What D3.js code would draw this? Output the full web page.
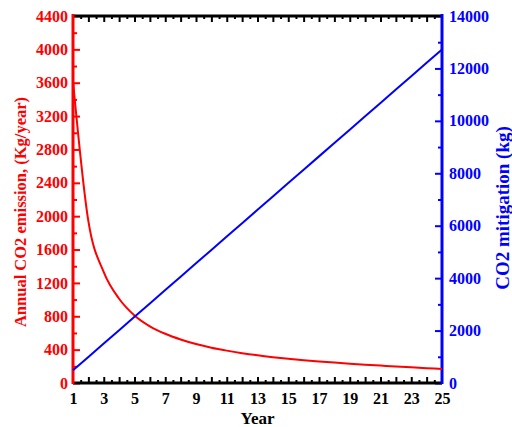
<!DOCTYPE html>
<html><head><meta charset="utf-8">
<script src="https://cdn.jsdelivr.net/npm/d3@7"></script>
<style>html,body{margin:0;padding:0;background:#fff}</style>
</head><body><svg id="c" width="512" height="427"></svg>
<script>
const years = [1,2,3,4,5,6,7,8,9,10,11,12,13,14,15,16,17,18,19,20,21,22,23,24,25];
const emission = [3620,1940,1330,1010,810,680,590,522,467,423,388,358,332,310,291,274,259,245,232,220,209,198,188,178,168];
const mitigation = [485,995,1505,2015,2525,3035,3545,4055,4565,5075,5585,6095,6605,7115,7625,8135,8645,9155,9665,10175,10685,11195,11705,12215,12725];
const xTicks = [1,3,5,7,9,11,13,15,17,19,21,23,25];
const leftTicks = [0,400,800,1200,1600,2000,2400,2800,3200,3600,4000,4400];
const rightTicks = [0,2000,4000,6000,8000,10000,12000,14000];

const svg = d3.select('#c');
const L = 73, R = 442, T = 16, B = 383;
const x = d3.scaleLinear().domain([1,25]).range([L,R]);
const yL = d3.scaleLinear().domain([0,4400]).range([B,T]);
const yR = d3.scaleLinear().domain([0,14000]).range([B,T]);
const font = '"Liberation Serif","Times New Roman",serif';
const RED = '#ff0000', BLUE = '#0000ff';

function styleAxis(g, color, size){
  g.select('.domain').remove();
  g.selectAll('line').attr('stroke', color).attr('stroke-width', 2);
  g.selectAll('text').attr('fill', color).attr('font-family', font)
   .attr('font-weight','bold').attr('font-size', size);
}

const halfX = d3.range(1.5, 25, 1);
const fullX = d3.range(2, 25, 1);
[[d3.axisBottom, B], [d3.axisTop, T]].forEach(([ax, pos]) => {
  svg.append('g').attr('transform',`translate(0,${pos})`)
    .call(ax(x).tickValues(halfX).tickSize(-3).tickFormat(''))
    .call(g=>styleAxis(g,'#000',16));
  svg.append('g').attr('transform',`translate(0,${pos})`)
    .call(ax(x).tickValues(fullX).tickSize(-6).tickFormat(''))
    .call(g=>styleAxis(g,'#000',16));
});

// bottom labels
svg.append('g').attr('transform',`translate(0,${B})`)
  .call(d3.axisBottom(x).tickValues(xTicks).tickSize(0).tickPadding(10).tickFormat(d3.format('d')))
  .call(g=>styleAxis(g,'#000',16));

// left axis
svg.append('g').attr('transform',`translate(${L},0)`)
  .call(d3.axisLeft(yL).tickValues(d3.range(200,4400,400)).tickSize(-4).tickFormat(''))
  .call(g=>styleAxis(g,RED,16));
svg.append('g').attr('transform',`translate(${L},0)`)
  .call(d3.axisLeft(yL).tickValues(leftTicks).tickSize(-7).tickPadding(5).tickFormat(d3.format('d')))
  .call(g=>styleAxis(g,RED,16));

// right axis
svg.append('g').attr('transform',`translate(${R},0)`)
  .call(d3.axisRight(yR).tickValues(d3.range(1000,14000,2000)).tickSize(-4).tickFormat(''))
  .call(g=>styleAxis(g,BLUE,16));
svg.append('g').attr('transform',`translate(${R},0)`)
  .call(d3.axisRight(yR).tickValues(rightTicks).tickSize(-7).tickPadding(7).tickFormat(d3.format('d')))
  .call(g=>styleAxis(g,BLUE,16));

// frame lines
svg.append('line').attr('x1',L).attr('x2',R).attr('y1',B).attr('y2',B).attr('stroke','#000').attr('stroke-width',3);
svg.append('line').attr('x1',L).attr('x2',R).attr('y1',T).attr('y2',T).attr('stroke','#000').attr('stroke-width',3);
svg.append('line').attr('x1',L).attr('x2',L).attr('y1',T-2).attr('y2',B+1).attr('stroke',RED).attr('stroke-width',3);
svg.append('line').attr('x1',R).attr('x2',R).attr('y1',T-2).attr('y2',B+1).attr('stroke',BLUE).attr('stroke-width',3);

// data lines
svg.append('path').datum(years.map((d,i)=>[d,emission[i]]))
  .attr('fill','none').attr('stroke',RED).attr('stroke-width',2)
  .attr('d', d3.line().x(d=>x(d[0])).y(d=>yL(d[1])).curve(d3.curveMonotoneX));
svg.append('path').datum(years.map((d,i)=>[d,mitigation[i]]))
  .attr('fill','none').attr('stroke',BLUE).attr('stroke-width',2)
  .attr('d', d3.line().x(d=>x(d[0])).y(d=>yR(d[1])));

// titles
svg.append('text').attr('x',(L+R)/2).attr('y',424).attr('text-anchor','middle')
  .attr('font-family',font).attr('font-weight','bold').attr('font-size',17).attr('fill','#000').text('Year');
svg.append('text').attr('transform','translate(20,212) rotate(-90)').attr('text-anchor','middle')
  .attr('dominant-baseline','central')
  .attr('font-family',font).attr('font-weight','bold').attr('font-size',16.5).attr('fill',RED)
  .text('Annual CO2 emission, (Kg/year)');
svg.append('text').attr('transform','translate(502,208) rotate(-90)').attr('text-anchor','middle')
  .attr('dominant-baseline','central')
  .attr('font-family',font).attr('font-weight','bold').attr('font-size',19).attr('fill',BLUE)
  .text('CO2 mitigation (kg)');
</script></body></html>
